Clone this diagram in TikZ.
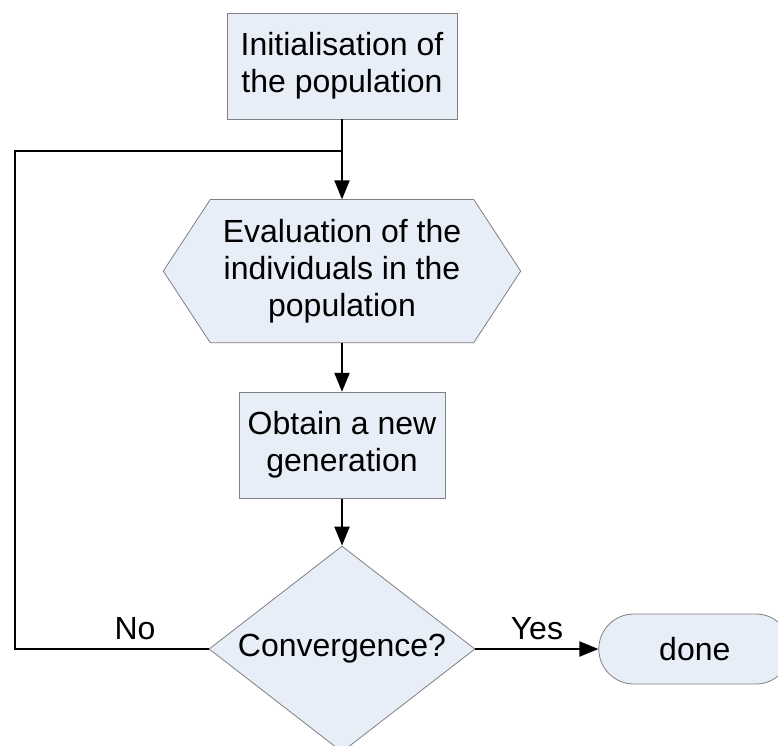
\documentclass[tikz,border=0pt]{standalone}
\usepackage{fontspec}
\setmainfont{Liberation Sans}
\usetikzlibrary{shapes.geometric, shapes.misc, arrows.meta, positioning, backgrounds}
\definecolor{flowfill}{RGB}{232,238,248}
\definecolor{flowline}{RGB}{128,128,128}

\begin{document}
\begin{tikzpicture}[
	  x=1pt, y=1pt,
	  font=\fontsize{32}{37}\selectfont,
	  process/.style={rectangle, minimum height=106pt, inner sep=0pt, align=center, draw=flowline, fill=flowfill, line width=0.8pt},
	  evaluate/.style={rectangle, minimum width=263pt, minimum height=143pt, inner sep=0pt, align=center},
	  hexborder/.style={draw=flowline, fill=flowfill, line width=0.8pt},
	  decision/.style={diamond, minimum width=266pt, minimum height=206pt, aspect=1.29, inner sep=0pt, draw=flowline, fill=flowfill, line width=0.8pt},
	  terminal/.style={rounded rectangle, minimum width=192pt, minimum height=70pt, inner sep=0pt, draw=flowline, fill=flowfill, line width=0.8pt},
	  arrow/.style={line width=2pt, -{Triangle[length=19pt, width=15pt]}},
	  link/.style={line width=2pt},
	  answer/.style={above, inner sep=8pt}
	]
	\useasboundingbox (0,0) rectangle (778,-745);

	\node (init) [process, minimum width=230pt] at (342,-66) {Initialisation of\\the population};
	\node (eval) [evaluate, below=80pt of init] {Evaluation of the\\individuals in the\\population};
	\node (newgen) [process, minimum width=206pt, below=49pt of eval] {Obtain a new\\generation};
	\node (conv) [decision, below=47pt of newgen] {Convergence?};
	\node (done) [terminal, right=123pt of conv] {done};
	\coordinate [below=32pt of init] (merge);
	\coordinate (back) at (15,0);

	\begin{scope}[on background layer]
	\draw [hexborder] (eval.north west) -- (eval.north east) -- ([xshift=47pt]eval.east) -- (eval.south east) -- (eval.south west) -- ([xshift=-47pt]eval.west) -- cycle;
	\end{scope}

	\draw [arrow] (init) -- (eval);
	\draw [arrow] (eval.south) -- (newgen);
	\draw [arrow] (newgen) -- (conv);
	\draw [arrow] (conv) -- node[answer] {Yes} (done);
	\draw [link] (conv.west) -- node[answer, pos=0.38] {No} (conv.west -| back) |- (merge);

	\end{tikzpicture}
\end{document}
